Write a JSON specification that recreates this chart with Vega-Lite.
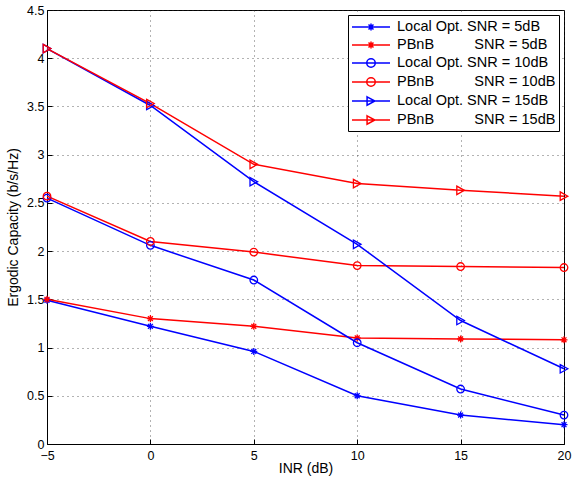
{
  "$schema": "https://vega.github.io/schema/vega-lite/v6.json",
  "width": 517,
  "height": 434,
  "autosize": {"type": "none"},
  "padding": {"left": 47, "top": 10, "right": 8, "bottom": 36},
  "background": "white",
  "config": {
    "font": "Liberation Sans",
    "view": {"stroke": "black", "strokeWidth": 1},
    "axis": {
      "labelFont": "Liberation Sans", "labelFontSize": 12.5, "labelColor": "black", "labelFlush": false,
      "titleFont": "Liberation Sans", "titleFontSize": 14, "titleFontWeight": "normal", "titleColor": "black",
      "domainColor": "black", "tickColor": "black", "tickSize": -5, "labelPadding": 8,
      "grid": true, "gridColor": "#333333", "gridDash": [1, 4], "gridWidth": 1, "gridOpacity": 0.75
    },
    "legend": {
      "orient": "top-right", "offset": 5, "title": null,
      "strokeColor": "black", "fillColor": "white", "padding": 3, "cornerRadius": 0,
      "labelFont": "Liberation Sans", "labelFontSize": 14.5, "labelColor": "black",
      "symbolSize": 256, "symbolStrokeWidth": 1.5, "symbolOpacity": 1,
      "symbolOffset": 11, "labelOffset": 17, "rowPadding": 2
    }
  },
  "data": {
    "values": [
      {"series": "Local Opt. SNR = 5dB", "inr": -5, "cap": 1.49},
      {"series": "Local Opt. SNR = 5dB", "inr": 0, "cap": 1.22},
      {"series": "Local Opt. SNR = 5dB", "inr": 5, "cap": 0.96},
      {"series": "Local Opt. SNR = 5dB", "inr": 10, "cap": 0.50},
      {"series": "Local Opt. SNR = 5dB", "inr": 15, "cap": 0.30},
      {"series": "Local Opt. SNR = 5dB", "inr": 20, "cap": 0.20},
      {"series": "PBnB SNR = 5dB", "inr": -5, "cap": 1.50},
      {"series": "PBnB SNR = 5dB", "inr": 0, "cap": 1.30},
      {"series": "PBnB SNR = 5dB", "inr": 5, "cap": 1.22},
      {"series": "PBnB SNR = 5dB", "inr": 10, "cap": 1.10},
      {"series": "PBnB SNR = 5dB", "inr": 15, "cap": 1.09},
      {"series": "PBnB SNR = 5dB", "inr": 20, "cap": 1.08},
      {"series": "Local Opt. SNR = 10dB", "inr": -5, "cap": 2.55},
      {"series": "Local Opt. SNR = 10dB", "inr": 0, "cap": 2.06},
      {"series": "Local Opt. SNR = 10dB", "inr": 5, "cap": 1.70},
      {"series": "Local Opt. SNR = 10dB", "inr": 10, "cap": 1.05},
      {"series": "Local Opt. SNR = 10dB", "inr": 15, "cap": 0.57},
      {"series": "Local Opt. SNR = 10dB", "inr": 20, "cap": 0.30},
      {"series": "PBnB SNR = 10dB", "inr": -5, "cap": 2.57},
      {"series": "PBnB SNR = 10dB", "inr": 0, "cap": 2.10},
      {"series": "PBnB SNR = 10dB", "inr": 5, "cap": 1.99},
      {"series": "PBnB SNR = 10dB", "inr": 10, "cap": 1.85},
      {"series": "PBnB SNR = 10dB", "inr": 15, "cap": 1.84},
      {"series": "PBnB SNR = 10dB", "inr": 20, "cap": 1.83},
      {"series": "Local Opt. SNR = 15dB", "inr": -5, "cap": 4.10},
      {"series": "Local Opt. SNR = 15dB", "inr": 0, "cap": 3.51},
      {"series": "Local Opt. SNR = 15dB", "inr": 5, "cap": 2.72},
      {"series": "Local Opt. SNR = 15dB", "inr": 10, "cap": 2.07},
      {"series": "Local Opt. SNR = 15dB", "inr": 15, "cap": 1.28},
      {"series": "Local Opt. SNR = 15dB", "inr": 20, "cap": 0.78},
      {"series": "PBnB SNR = 15dB", "inr": -5, "cap": 4.10},
      {"series": "PBnB SNR = 15dB", "inr": 0, "cap": 3.53},
      {"series": "PBnB SNR = 15dB", "inr": 5, "cap": 2.90},
      {"series": "PBnB SNR = 15dB", "inr": 10, "cap": 2.70},
      {"series": "PBnB SNR = 15dB", "inr": 15, "cap": 2.63},
      {"series": "PBnB SNR = 15dB", "inr": 20, "cap": 2.57}
    ]
  },
  "encoding": {
    "x": {
      "field": "inr", "type": "quantitative",
      "scale": {"domain": [-5, 20], "nice": false, "zero": false},
      "axis": {"title": "INR (dB)", "values": [-5, 0, 5, 10, 15, 20], "titlePadding": 0, "labelPadding": 10}
    },
    "y": {
      "field": "cap", "type": "quantitative",
      "scale": {"domain": [0, 4.5], "nice": false},
      "axis": {"title": "Ergodic Capacity (b/s/Hz)", "values": [0, 0.5, 1, 1.5, 2, 2.5, 3, 3.5, 4, 4.5], "format": "~g", "titlePadding": 6}
    },
    "color": {
      "field": "series", "type": "nominal",
      "scale": {
        "domain": ["Local Opt. SNR = 5dB", "PBnB SNR = 5dB", "Local Opt. SNR = 10dB", "PBnB SNR = 10dB", "Local Opt. SNR = 15dB", "PBnB SNR = 15dB"],
        "range": ["#0000ff", "#ff0000", "#0000ff", "#ff0000", "#0000ff", "#ff0000"]
      },
      "legend": {"title": null, "labelExpr": "replace(datum.label, 'PBnB ', 'PBnB\u00a0\u00a0\u00a0\u00a0\u00a0\u00a0\u00a0\u00a0\u00a0\u00a0')"}
    }
  },
  "layer": [
    {"mark": {"type": "line", "strokeWidth": 1.5}},
    {
      "transform": [{"filter": {"field": "series", "oneOf": ["Local Opt. SNR = 5dB", "PBnB SNR = 5dB"]}}],
      "mark": {"type": "point", "shape": "M-1,0L1,0M0,-1L0,1M-0.7,-0.7L0.7,0.7M-0.7,0.7L0.7,-0.7", "filled": false, "size": 49, "strokeWidth": 1.3, "opacity": 1}
    },
    {
      "transform": [{"filter": {"field": "series", "oneOf": ["Local Opt. SNR = 10dB", "PBnB SNR = 10dB"]}}],
      "mark": {"type": "point", "shape": "circle", "filled": false, "size": 57, "strokeWidth": 1.3, "opacity": 1}
    },
    {
      "transform": [{"filter": {"field": "series", "oneOf": ["Local Opt. SNR = 15dB", "PBnB SNR = 15dB"]}}],
      "mark": {"type": "point", "shape": "M-0.9,-1L0.9,0L-0.9,1Z", "filled": false, "size": 71, "strokeWidth": 1.3, "opacity": 1}
    },
    {
      "mark": {"type": "point", "filled": false, "opacity": 0},
      "encoding": {
        "shape": {
          "field": "series", "type": "nominal",
          "scale": {
            "domain": ["Local Opt. SNR = 5dB", "PBnB SNR = 5dB", "Local Opt. SNR = 10dB", "PBnB SNR = 10dB", "Local Opt. SNR = 15dB", "PBnB SNR = 15dB"],
            "range": [
              "M-2.375,0L2.375,0M0,-0.44L0,0.44M-0.31,-0.31L0.31,0.31M-0.31,0.31L0.31,-0.31",
              "M-2.375,0L2.375,0M0,-0.44L0,0.44M-0.31,-0.31L0.31,0.31M-0.31,0.31L0.31,-0.31",
              "M-2.375,0L2.375,0M0.53,0A0.53,0.53,0,1,1,-0.53,0A0.53,0.53,0,1,1,0.53,0",
              "M-2.375,0L2.375,0M0.53,0A0.53,0.53,0,1,1,-0.53,0A0.53,0.53,0,1,1,0.53,0",
              "M-2.375,0L2.375,0M-0.49,-0.525L0.49,0L-0.49,0.525Z",
              "M-2.375,0L2.375,0M-0.49,-0.525L0.49,0L-0.49,0.525Z"
            ]
          },
          "legend": {"title": null, "labelExpr": "replace(datum.label, 'PBnB ', 'PBnB\u00a0\u00a0\u00a0\u00a0\u00a0\u00a0\u00a0\u00a0\u00a0\u00a0')"}
        }
      }
    }
  ]
}
